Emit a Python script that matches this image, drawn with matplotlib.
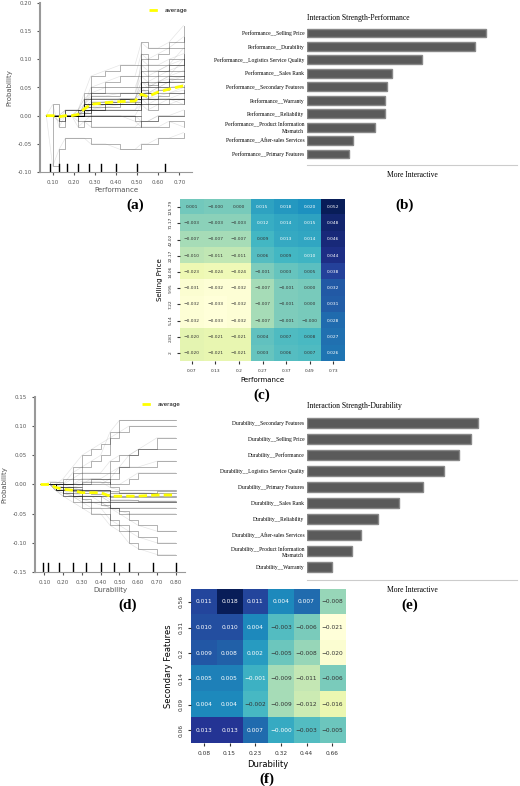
import matplotlib.pyplot as plt
import numpy as np

# ---------- data ----------
# (a) ICE for Performance
perf_x = [0.07, 0.10, 0.13, 0.16, 0.19, 0.22, 0.25, 0.28, 0.35, 0.42, 0.49, 0.52, 0.55, 0.60, 0.65, 0.72]
perf_avg = [0, 0, -0.002, 0, 0, 0.002, 0.012, 0.020, 0.023, 0.025, 0.026, 0.038, 0.034, 0.042, 0.047, 0.053]
perf_ice = [
    [0, 0, 0, 0, 0, 0, 0.01, 0.02, 0.02, 0.02, 0.02, 0.03, 0.03, 0.04, 0.04, 0.05],
    [0, 0, 0, 0.01, 0.01, 0.01, 0.03, 0.04, 0.04, 0.04, 0.04, 0.07, 0.06, 0.07, 0.08, 0.09],
    [0, 0, 0, 0, 0, 0, 0.02, 0.05, 0.06, 0.07, 0.07, 0.11, 0.10, 0.11, 0.12, 0.14],
    [0, 0, -0.01, 0, 0, 0, 0.005, 0.01, 0.01, 0.01, 0.01, 0.02, 0.02, 0.02, 0.03, 0.03],
    [0, 0.02, -0.02, 0, 0, -0.01, -0.01, -0.02, -0.02, -0.02, -0.02, -0.01, -0.01, 0, 0, 0.01],
    [0, -0.09, -0.06, -0.04, -0.04, -0.04, -0.04, -0.05, -0.05, -0.06, -0.06, -0.05, -0.05, -0.04, -0.04, -0.03],
    [0, 0, 0, 0, 0, 0.01, 0.04, 0.07, 0.08, 0.09, 0.09, 0.13, 0.12, 0.12, 0.13, 0.16],
    [0, 0, 0, 0, 0, 0, 0.01, 0.01, 0.02, 0.02, 0.03, 0.05, 0.04, 0.05, 0.06, 0.07],
    [0, 0, 0, 0, 0, 0, 0.005, 0.01, 0.015, 0.02, 0.02, 0.10, 0.09, 0.09, 0.10, 0.11],
    [0, 0, 0, 0, 0, 0, 0, 0, 0, 0, 0, 0.02, 0.01, 0.02, 0.02, 0.03],
    [0, 0, 0, 0, 0, 0, 0.02, 0.03, 0.03, 0.03, 0.03, 0.04, 0.04, 0.05, 0.06, 0.06],
    [0, 0, 0, 0, 0, -0.02, -0.01, 0, 0, 0, 0, -0.01, -0.01, 0, 0, 0],
    [0, 0, -0.01, 0.01, 0.01, 0.01, 0.03, 0.03, 0.03, 0.03, 0.03, 0.05, 0.05, 0.06, 0.07, 0.08],
    [0, 0, 0, 0, 0, 0, 0.01, 0.02, 0.02, 0.03, 0.03, 0.06, 0.05, 0.06, 0.07, 0.10],
    [0, 0, 0, 0, 0, 0, 0, 0.01, 0.01, 0.01, 0.01, 0.03, 0.02, 0.03, 0.03, 0.04],
    [0, 0, 0, 0, 0, 0.01, 0.02, 0.04, 0.05, 0.05, 0.05, 0.08, 0.07, 0.08, 0.09, 0.12],
    [0, 0, 0, 0, 0, 0, 0.015, 0.025, 0.025, 0.025, 0.025, 0.045, 0.04, 0.045, 0.05, 0.055],
    [0, 0, 0, 0, 0, 0, 0.01, 0.015, 0.02, 0.02, 0.02, 0.035, 0.03, 0.035, 0.04, 0.045],
    [0, 0, 0, 0, 0, 0.005, 0.015, 0.02, 0.025, 0.03, 0.03, 0.06, 0.055, 0.06, 0.065, 0.07],
    [0, 0, 0, 0, 0, 0, 0, 0, 0, 0, -0.01, -0.02, -0.02, -0.02, -0.01, -0.02],
    [0, 0, 0, 0.01, 0.01, 0.01, 0.01, 0.02, 0.02, 0.02, 0.02, 0.04, 0.03, 0.03, 0.03, 0.02],
    [0, 0, 0, 0, 0, 0, 0.02, 0.035, 0.035, 0.04, 0.04, 0.09, 0.08, 0.08, 0.09, 0.10],
]
perf_rug = [0.085, 0.13, 0.17, 0.22, 0.27, 0.33, 0.40, 0.50, 0.63]

# (b) interaction strength - Performance
b_labels = ['Performance__Selling Price', 'Performance__Durability', 'Performance__Logistics Service Quality',
            'Performance__Sales Rank', 'Performance__Secondary Features', 'Performance__Warranty',
            'Performance__Reliability', 'Performance__Product Information\nMismatch',
            'Performance__After-sales Services', 'Performance__Primary Features']
b_values = [179, 168, 115, 85, 80, 78, 78, 68, 46, 42]

# (c) heatmap Performance x Selling Price
c_cols = ['0.07', '0.13', '0.2', '0.27', '0.37', '0.49', '0.73']
c_rows = ['125.79', '71.17', '42.02', '22.17', '14.06', '9.95', '7.22', '5.14', '2.81', '2']
c_vals = [
    [0.001, -0.000, 0.000, 0.015, 0.018, 0.020, 0.052],
    [-0.003, -0.003, -0.003, 0.012, 0.014, 0.015, 0.048],
    [-0.007, -0.007, -0.007, 0.009, 0.013, 0.014, 0.046],
    [-0.010, -0.011, -0.011, 0.006, 0.009, 0.010, 0.044],
    [-0.023, -0.024, -0.024, -0.001, 0.003, 0.005, 0.038],
    [-0.031, -0.032, -0.032, -0.007, -0.001, 0.000, 0.032],
    [-0.032, -0.033, -0.032, -0.007, -0.001, 0.000, 0.031],
    [-0.032, -0.033, -0.032, -0.007, -0.001, -0.000, 0.028],
    [-0.020, -0.021, -0.021, 0.004, 0.007, 0.008, 0.027],
    [-0.020, -0.021, -0.021, 0.003, 0.006, 0.007, 0.026],
]

# (d) ICE for Durability
dur_x = [0.08, 0.10, 0.13, 0.16, 0.20, 0.25, 0.30, 0.35, 0.40, 0.45, 0.50, 0.55, 0.60, 0.70, 0.80]
dur_avg = [0, 0, 0, -0.005, -0.008, -0.010, -0.014, -0.014, -0.014, -0.020, -0.020, -0.020, -0.020, -0.018, -0.018]
dur_ice = [
    [0, 0, 0, -0.01, -0.01, -0.01, -0.02, -0.02, -0.02, -0.03, -0.03, -0.03, -0.03, -0.03, -0.03],
    [0, 0, 0, 0, 0, 0, 0, 0, 0, 0.01, 0.03, 0.05, 0.06, 0.08, 0.08],
    [0, 0, 0, 0, 0, 0.02, 0.03, 0.04, 0.05, 0.09, 0.11, 0.11, 0.11, 0.11, 0.11],
    [0, 0, 0, -0.01, -0.02, -0.02, -0.03, -0.04, -0.04, -0.06, -0.07, -0.08, -0.09, -0.10, -0.10],
    [0, 0, 0, 0, 0, 0, 0.005, 0.005, 0.005, -0.005, -0.01, -0.01, -0.01, -0.01, -0.01],
    [0, 0, 0.005, 0.005, 0, -0.005, -0.01, -0.01, -0.01, -0.02, -0.02, -0.02, -0.02, -0.02, -0.02],
    [0, 0, 0, -0.01, -0.015, -0.02, -0.025, -0.03, -0.03, -0.04, -0.045, -0.05, -0.05, -0.05, -0.05],
    [0, 0, 0, 0, 0, 0.01, 0.02, 0.02, 0.02, 0.04, 0.05, 0.05, 0.06, 0.06, 0.06],
    [0, 0, 0, -0.005, -0.005, -0.01, -0.01, -0.01, -0.01, -0.015, -0.015, -0.015, -0.015, -0.015, -0.015],
    [0, 0, 0, 0, 0.01, 0.03, 0.05, 0.06, 0.07, 0.08, 0.09, 0.10, 0.10, 0.10, 0.10],
    [0, 0, 0, -0.01, -0.01, -0.02, -0.02, -0.02, -0.03, -0.04, -0.05, -0.06, -0.07, -0.08, -0.08],
    [0, 0, 0, 0, -0.005, -0.005, 0, 0.01, 0.01, 0, 0, 0.01, 0.02, 0.02, 0.02],
    [0, 0, 0, -0.005, -0.01, -0.015, -0.02, -0.02, -0.02, -0.03, -0.03, -0.03, -0.03, -0.03, -0.03],
    [0, 0, 0, -0.01, -0.015, -0.02, -0.03, -0.03, -0.035, -0.04, -0.04, -0.04, -0.04, -0.04, -0.04],
    [0, 0, 0, -0.005, -0.008, -0.01, -0.012, -0.012, -0.012, -0.022, -0.022, -0.022, -0.022, -0.022, -0.022],
    [0, 0, 0, 0, -0.005, -0.008, -0.01, -0.01, -0.01, -0.012, -0.014, -0.014, -0.014, -0.012, -0.012],
    [0, 0, 0, -0.005, -0.01, -0.012, -0.015, -0.016, -0.016, -0.026, -0.026, -0.026, -0.028, -0.028, -0.028],
    [0, 0, 0, 0, 0, 0, 0.01, 0.01, 0.01, 0.02, 0.03, 0.03, 0.03, 0.04, 0.04],
    [0, 0, 0, -0.01, -0.02, -0.03, -0.04, -0.05, -0.05, -0.07, -0.08, -0.10, -0.11, -0.12, -0.12],
]
dur_rug = [0.09, 0.12, 0.18, 0.25, 0.32, 0.40, 0.47, 0.55, 0.68, 0.80]

# (e) interaction strength - Durability
e_labels = ['Durability__Secondary Features', 'Durability__Selling Price', 'Durability__Performance',
            'Durability__Logistics Service Quality', 'Durability__Primary Features', 'Durability__Sales Rank',
            'Durability__Reliability', 'Durability__After-sales Services',
            'Durability__Product Information\nMismatch', 'Durability__Warranty']
e_values = [171, 164, 152, 137, 116, 92, 71, 54, 45, 25]

# (f) heatmap Durability x Secondary Features
f_cols = ['0.08', '0.15', '0.23', '0.32', '0.44', '0.66']
f_rows = ['0.56', '0.31', '0.2', '0.14', '0.09', '0.06']
f_vals = [
    [0.011, 0.018, 0.011, 0.004, 0.007, -0.008],
    [0.010, 0.010, 0.004, -0.003, -0.006, -0.021],
    [0.009, 0.008, 0.002, -0.005, -0.008, -0.020],
    [0.005, 0.005, -0.001, -0.009, -0.011, -0.006],
    [0.004, 0.004, -0.002, -0.009, -0.012, -0.016],
    [0.013, 0.013, 0.007, -0.000, -0.003, -0.005],
]

W, H = 520, 786
fig = plt.figure(figsize=(W / 100, H / 100), dpi=100)


def box(x0, y0, x1, y1):
    return [x0 / W, 1 - y1 / H, (x1 - x0) / W, (y1 - y0) / H]


def panel_label(x, y, s):
    fig.text(x / W, 1 - y / H, s, ha='center', va='center', fontsize=11,
             fontweight='bold', family='Liberation Serif')


def ice(ax, xs, curves, avg, rug, xlabel, ylim, xticks, yticks):
    for c in curves:
        ax.plot(xs, c, color='black', alpha=0.35, lw=0.6, drawstyle='steps-post')
        ax.plot(xs, c, color='gray', alpha=0.2, lw=0.5)
    ax.plot(xs, avg, color='yellow', lw=2, ls='--', dashes=(3, 1.5), label='average')
    ax.set_ylim(*ylim)
    for r in rug:
        ax.plot([r, r], [ylim[0], ylim[0] + 0.05 * (ylim[1] - ylim[0])], color='black', lw=1)
    ax.set_xticks(xticks)
    ax.set_xticklabels([f'{t:.2f}' for t in xticks])
    ax.set_yticks(yticks)
    ax.set_yticklabels([f'{t:.2f}' for t in yticks])
    ax.tick_params(labelsize=4, colors='#555555', length=2)
    ax.set_xlabel(xlabel, fontsize=5, color='#555555', labelpad=2)
    ax.set_ylabel('Probability', fontsize=5, color='#555555')
    for s in ['top', 'right']:
        ax.spines[s].set_visible(False)
    ax.spines['left'].set_color('#999999')
    ax.spines['left'].set_linewidth(1.5)
    ax.spines['bottom'].set_color('#999999')
    ax.legend(loc='upper right', fontsize=4, frameon=False)


def bars(ax, labels, values, title):
    y = np.arange(len(labels))
    ax.barh(y, values, color='#5a5a5a', edgecolor='#888888', height=0.65)
    ax.invert_yaxis()
    ax.set_yticks(y)
    ax.set_yticklabels(labels, fontsize=4, family='Liberation Serif')
    ax.set_xticks([])
    ax.set_xlim(0, 210)
    ax.tick_params(length=0, pad=2)
    for s in ['top', 'right', 'left']:
        ax.spines[s].set_visible(False)
    ax.spines['bottom'].set_color('#cccccc')
    ax.set_xlabel('More Interactive', fontsize=5.5, family='Liberation Serif')
    ax.set_title(title, fontsize=5.5, family='Liberation Serif', loc='left', pad=1)


def heat(ax, vals, rows, cols, xlabel, ylabel, fs, lfs):
    v = np.array(vals)
    ax.imshow(v, cmap='YlGnBu', aspect='auto')
    mid = (v.min() + v.max()) / 2
    for i in range(v.shape[0]):
        for j in range(v.shape[1]):
            ax.text(j, i, f'{v[i, j]:.3f}'.replace('-', '\u2212'), ha='center', va='center', fontsize=fs,
                    color='white' if v[i, j] > mid else '#333333')
    ax.set_xticks(range(len(cols)))
    ax.set_xticklabels(cols)
    ax.set_yticks(range(len(rows)))
    ax.set_yticklabels(rows, rotation=90, va='center')
    ax.tick_params(labelsize=fs, colors='#333333', length=2)
    for s in ax.spines.values():
        s.set_visible(False)
    ax.set_xlabel(xlabel, fontsize=lfs, labelpad=3)
    ax.set_ylabel(ylabel, fontsize=lfs)


ax_a = fig.add_axes(box(40, 3, 192, 172))
ice(ax_a, perf_x, perf_ice, perf_avg, perf_rug, 'Performance', (-0.10, 0.20),
    [0.10, 0.20, 0.30, 0.40, 0.50, 0.60, 0.70], [-0.10, -0.05, 0.00, 0.05, 0.10, 0.15, 0.20])
ax_a.set_xlim(0.04, 0.76)
panel_label(135, 205, '(a)')

ax_b = fig.add_axes(box(307, 22, 517, 165))
bars(ax_b, b_labels, b_values, 'Interaction Strength-Performance')
panel_label(405, 205, '(b)')

ax_c = fig.add_axes(box(180, 199, 345, 361))
heat(ax_c, c_vals, c_rows, c_cols, 'Performance', 'Selling Price', 3.2, 5)
panel_label(262, 395, '(c)')

ax_d = fig.add_axes(box(35, 397, 185, 572))
ice(ax_d, dur_x, dur_ice, dur_avg, dur_rug, 'Durability', (-0.15, 0.15),
    [0.10, 0.20, 0.30, 0.40, 0.50, 0.60, 0.70, 0.80], [-0.15, -0.10, -0.05, 0.00, 0.05, 0.10, 0.15])
ax_d.set_xlim(0.05, 0.85)
panel_label(128, 605, '(d)')

ax_e = fig.add_axes(box(307, 410, 517, 580))
bars(ax_e, e_labels, e_values, 'Interaction Strength-Durability')
panel_label(410, 605, '(e)')

ax_f = fig.add_axes(box(191, 589, 345, 743))
heat(ax_f, f_vals, f_rows, f_cols, 'Durability', 'Secondary Features', 4.2, 6)
panel_label(267, 779, '(f)')

fig.savefig('out.png', dpi=100)
